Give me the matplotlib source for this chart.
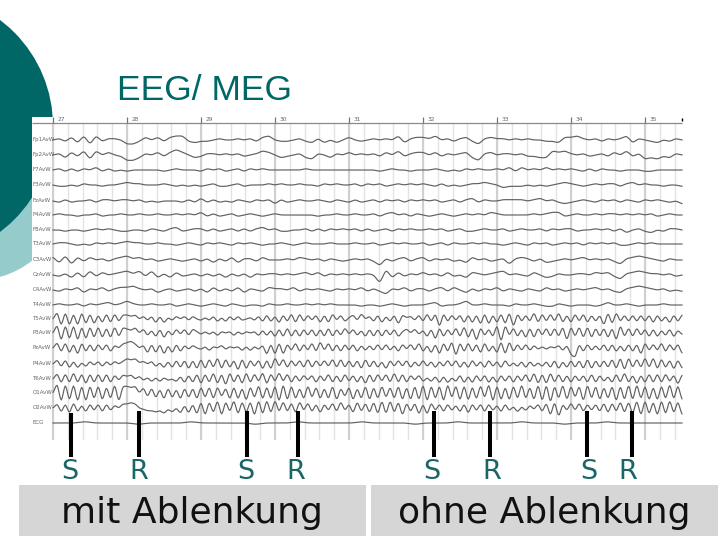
import numpy as np
import matplotlib
matplotlib.use('Agg')
import matplotlib.pyplot as plt
from matplotlib.patches import Circle, Rectangle

TEAL = '#006666'
TRACE = '#606060'

channels = ['Fp1AvW', 'Fp2AvW', 'F7AvW', 'F3AvW', 'FzAvW', 'F4AvW', 'F8AvW', 'T3AvW', 'C3AvW', 'CzAvW',
            'C4AvW', 'T4AvW', 'T5AvW', 'P3AvW', 'PzAvW', 'P4AvW', 'T6AvW', 'O1AvW', 'O2AvW', 'ECG']
baselines = [140, 155, 170, 185, 201, 215, 230, 244, 260, 275, 290, 305, 319, 333, 348, 364, 379, 393, 408, 423]

# deflections in trace units, one row per second (27 .. 35)
fp1 = [0, 1, -1, 2, -2, 3, -3, 3, -1, 1, 1, 0,
       -3, -3, -1, 2, 0, 2, -1, 2, 3, 3, -1, -2,
       -1, -1, 0, 1, 0, 0, 1, 0, 1, -1, 2, 3,
       0, -1, -1, 0, 1, -1, -2, 1, -2, 0, -2, 0,
       2, 0, -1, 0, 1, 0, 1, 0, 3, -2, 1, 2,
       2, 1, 3, 0, 1, -1, 1, 2, -1, -3, 1, 2,
       1, 1, 0, 1, 0, 1, 0, 0, -1, -1, -2, 2,
       2, 3, 1, 0, 1, -1, 1, 0, 1, 3, -2, 1,
       0, -1, -2, 0, -1, 1, 0]
fp2 = [0, 1, -2, 2, -1, 3, -3, 3, 0, 2, 0, -1,
       -4, -4, -2, 1, 0, 2, -1, 2, 4, 2, 0, -2,
       -1, 1, 1, 0, 1, 0, 1, -1, 0, 1, 3, 2,
       0, -2, -1, 0, 1, -2, -3, 1, 0, -2, 1, 0,
       2, 0, 1, 0, 1, -1, 2, 0, 3, -1, 1, 2,
       2, 0, 2, -1, 1, 0, 1, 2, -2, -4, 1, 2,
       0, 1, 1, 0, 1, -1, -1, -2, -2, 3, 2, 3,
       1, 0, 1, -1, 0, 1, -1, 2, 0, 3, -1, 1,
       -3, -2, -3, -1, -2, 1, 0]
f7 = [0, 1, -1, 1, -1, 1, 0, 2, -1, 1, -1, 0,
      -1, 0, 0, 0, 0, 0, -1, 0, 1, 0, 0, 0,
      -1, 1, 0, 1, -1, 0, 1, -1, 1, 0, 1, 0,
      0, 0, 0, 0, 0, 1, 0, 0, 0, 0, 0, 0,
      0, 0, 0, 0, 0, -1, 0, 1, 0, 0, -1, 0,
      0, 0, 1, 0, -1, 0, -1, 1, 0, 1, 0, 0,
      1, 0, 2, -1, 2, 0, 1, 0, 2, 0, 1, 0,
      1, 0, -1, 1, -1, 1, 0, 0, -1, 0, 0, 0,
      -1, -1, 0, 0, 0, 0, 0]
f3 = [0, -1, -1, 0, -1, 1, 0, 0, -1, 0, 0, 1,
      2, 1, 1, 0, 0, 0, 1, 0, -1, 0, -1, 0,
      -1, 0, 1, -1, -1, 0, 1, -1, 0, 0, 0, 1,
      0, 1, 0, 0, 1, 0, 0, -1, 1, 0, 1, 0,
      0, 1, -1, 1, 0, 1, -1, 0, 1, 0, 1, 0,
      1, 0, -1, 1, -1, 0, -1, 0, 1, 1, 2, 1,
      0, -2, -1, -1, -1, 0, -1, 0, -1, 0, 1, 2,
      1, 0, -1, 0, 1, 0, 1, 1, -1, 1, 2, 0,
      1, 0, 0, -1, 0, 0, -1]
fz = [0, -1, 1, -1, 0, 0, 1, -1, 1, 1, 0, 1,
      1, 0, 1, -1, 0, -1, 0, 0, 0, -1, 1, -1,
      2, -1, 1, -1, 0, -1, 1, 0, -1, 1, 0, 1,
      -2, 1, -1, 0, 1, 0, 0, 1, 0, -1, 1, 0,
      -1, 1, -1, 0, 1, -1, 1, 0, 1, -1, 1, 0,
      1, 0, 1, -1, 0, 1, -1, 1, 2, -1, 1, 0,
      0, 1, 1, 1, 1, 0, 1, 2, 0, 1, -1, -2,
      -1, 0, 1, 0, -1, 1, 0, 1, -1, 1, 0, -1,
      1, 0, 1, 0, -1, 0, -2]
f4 = [0, 1, 0, 0, -1, 0, 0, 1, -1, 0, 0, 1,
      0, 0, 1, 0, 0, 1, 0, 0, 1, 0, 1, 0,
      2, -1, 1, -1, 0, 1, -1, 0, 1, 0, -1, 0,
      1, 0, 0, 0, 0, 0, 0, -1, 0, 0, 1, 0,
      0, 1, 0, 0, 1, -1, 1, 2, 0, 1, -1, 1,
      0, -1, 0, 1, 0, -1, 0, 1, 0, 1, 0, 2,
      1, 0, 0, 0, 0, 0, 1, 0, 1, 2, 2, -1,
      0, 1, 0, 0, 1, 0, 1, 1, 0, 1, 0, 1,
      0, 1, -1, 0, 1, 0, 0]
f8 = [0, 0, -1, 0, 0, -1, 0, 1, 0, 1, 0, -1,
      -1, 0, 0, -1, 1, 0, -1, 1, 2, -1, 0, 1,
      1, -1, 1, -1, 0, 1, -1, 1, -1, 1, 2, 0,
      1, -1, -1, 0, 0, 1, -1, 1, -1, 1, 0, 1,
      0, 1, -1, 1, -1, 0, 1, -1, 1, 0, 1, 0,
      0, 1, 0, 1, -1, 0, 1, -1, -1, 0, 1, 0,
      0, 1, -1, 0, 1, 0, 0, 1, -1, 1, 0, 1,
      1, -1, 0, 0, 1, 0, 1, -1, 1, -2, 0, 1,
      -1, -2, 0, -1, 1, 1, 0]
t3 = [0, 1, 1, 0, -1, 0, -1, 1, 0, 1, 0, 1,
      2, 1, 1, 0, 0, 1, 0, 0, -1, 0, 1, 0,
      -1, 1, 0, 1, 0, -1, 1, 0, 1, 0, -1, 0,
      0, 1, 0, -1, 0, 1, 0, 0, 0, 1, 0, 0,
      0, 1, 0, 0, 1, -1, 0, 1, 0, 1, 0, 0,
      1, -1, 0, 1, -1, 1, 0, 0, 1, 0, 1, 0,
      0, -1, 0, 1, 0, -1, 1, 0, 1, -1, 0, 1,
      0, 1, -1, 1, 0, 1, 0, 1, -1, -1, 0, 1,
      0, 1, 0, 0, 0, 0, 0]
c3 = [2, -2, 3, -3, 2, -1, 2, 0, 1, -1, 1, 2,
      3, 1, 2, 0, 1, -1, 0, 1, 0, -1, 0, 1,
      -1, 1, -2, 1, -1, 2, -2, 1, 1, -1, 2, 0,
      0, 0, 1, 0, 2, 1, 0, 1, -1, 1, 0, -1,
      0, 1, 0, 1, -1, -4, 1, -1, 1, 2, -1, 1,
      2, -1, 1, 0, 1, -1, 0, -2, 2, 0, 1, -1,
      0, 1, -3, 1, 2, 1, -1, 1, -2, -1, 0, 1,
      0, 1, 2, 0, 1, 0, 1, -1, -3, 1, 2, 3,
      2, 1, 0, -1, 1, 0, 0]
cz = [0, -1, 1, -2, 2, -2, 3, -1, 2, 0, 1, 2,
      3, 1, 3, -1, 3, -2, 1, -2, 2, -1, 0, 1,
      -1, 1, -1, 1, -2, 1, -1, 1, -2, 1, 0, 1,
      1, 0, 1, 0, 1, 2, 0, 2, -1, 1, 0, 1,
      0, 1, 0, 1, 0, -6, 4, -2, 2, -1, 1, 0,
      2, 0, 1, -1, 2, -1, 0, -2, 2, 1, 0, 1,
      2, 3, 0, 1, 0, -1, 2, 0, -2, -1, 1, 0,
      0, 1, 1, 0, 2, 1, 2, -1, -3, 1, 2, 3,
      2, 1, 1, 0, 1, -1, 0]
c4 = [0, -1, 1, 0, 2, -2, 1, 0, 2, -1, 1, 2,
      2, 3, 1, 0, 1, -2, 0, 1, -1, 0, 1, -1,
      1, -2, 2, -1, 1, -1, 2, -2, 1, 0, -1, 2,
      1, 1, 0, 2, -1, 1, 0, 1, 0, -1, 1, 0,
      1, 0, 2, -1, 1, -1, -3, 1, 0, 2, -1, 1,
      1, -1, 1, 2, -1, 2, 0, -2, 1, -1, 1, 0,
      2, -1, 1, 0, -1, 1, 0, -1, 2, 0, 1, -1,
      0, 1, 0, 1, 2, 0, 1, -1, -2, 1, 2, 3,
      2, 1, 0, 1, -1, 0, -1]
t4 = [0, 1, 0, 0, 1, -1, 1, 0, 1, 2, 0, 1,
      3, 1, 0, 0, 1, 0, 0, 1, -1, 0, 1, 0,
      -1, 0, 1, 0, -1, 1, 0, -1, 0, 0, -1, 1,
      0, 0, 1, 0, 0, 1, 0, 1, 0, 1, 0, 0,
      0, 0, -1, 0, 0, -1, 0, 1, 0, -1, 0, 0,
      0, 1, 2, -1, 0, 0, 1, 3, 0, 0, 1, 0,
      0, 0, -1, 1, 0, 0, 1, 0, -1, -1, 1, 0,
      -1, 0, 0, 0, -1, 0, 2, 0, 0, 1, 0, -1,
      0, 0, 0, 1, 0, 0, 0]

# rhythmic channels, finer reading
t5 = [0, 5, -5, 5, -5, 4, -5, 5, -4, 4, -4, 3, -3, 4, -3, 4, -2, 3,
      3, 2, 3, 0, 2, -1, 2, -3, 2, -3, 1, -1, 2, 0, 2, -1, 2, 0,
      -1, 1, -1, 2, -2, 1, -2, 2, -1, 2, -1, 0, 1, -1, 2, -2, 3, -2,
      2, -3, 3, -2, 4, -3, 4, -2, 3, -1, 3, -3, 3, -3, 4, -1, 3, -2,
      1, 3, -1, 4, 0, 2, -2, 3, -3, 2, -2, 3, -4, 3, 1, 2, -1, 3,
      -2, 4, -2, 4, -6, 4, -2, 3, -1, 3, -3, 3, -3, 3, -4, 4, -4, 3,
      -3, 4, -4, 5, -6, 4, -2, 3, -2, 5, -3, 4, -2, 4, -2, 5, -3, 3,
      -3, 4, -2, 4, -3, 3, -2, 3, -5, 5, -4, 5, -2, 3, -2, 3, -2, 3,
      -2, 3, -3, 3, -2, 2, -3, 3, -2, 3]
p3 = [0, 6, -6, 6, -5, 6, -6, 5, -5, 5, -4, 5, -4, 4, -4, 5, -3, 4,
      3, 2, 4, 0, 3, -2, 2, -3, 3, -4, 2, -2, 3, -1, 3, -2, 3, 1,
      -1, 1, -1, 1, -2, 1, 0, 1, -2, 1, -1, 1, 0, 1, -2, 2, -2, 2,
      -3, 3, -3, 4, -3, 3, -3, 3, -2, 3, -3, 3, -3, 4, -3, 3, -2, 4,
      -1, 3, -2, 2, -3, 3, -3, 3, -3, 3, -2, 3, -3, 1, 3, 0, 3, -1,
      2, -3, 3, -5, 4, -3, 3, -2, 4, -3, 5, -4, 4, -6, 4, -2, 3, -3,
      6, -7, 6, -2, 4, -3, 3, -4, 4, -4, 4, -2, 4, -3, 4, -3, 5, -6,
      5, -3, 5, -4, 5, -4, 4, -3, 4, -4, 4, -6, 6, -3, 4, -3, 4, -2,
      3, -3, 3, -3, 2, -2, 3, -3, 2, -1]
pz = [0, 4, -3, 4, -4, 3, -5, 4, -3, 3, -3, 3, -2, 3, -3, 2, 0, 3,
      4, 5, 3, 0, 2, -4, 3, -4, 3, -5, 2, -4, 3, -3, 2, -1, 2, 0,
      -1, 1, -2, 1, 0, 2, -1, 1, 0, 1, -2, 1, -2, 1, -1, 2, -5, 3,
      -5, 4, -5, 3, -2, 4, -3, 3, -2, 4, -3, 5, -2, 4, -3, 3, -3, 3,
      -2, 3, -3, 2, -2, 2, -2, 3, -2, 3, -2, 2, -3, 3, -1, 3, -2, 4,
      -3, 2, -4, 3, -5, 4, -3, 5, -6, 4, -3, 4, -3, 3, -4, 4, -3, 2,
      -4, 5, -5, 5, -3, 3, -2, 3, -2, 2, -1, 1, -1, 1, 0, 2, -2, 2,
      -5, -7, 3, -3, 3, -2, 2, -2, 3, -3, 3, -3, 2, -3, 3, -3, 3, -5,
      4, -2, 3, -2, 4, -3, 3, -2, 3, -4]
p4 = [0, 3, -2, 3, -3, 2, -3, 1, -2, 2, -1, 2, -2, 2, -1, 2, 0, 2,
      4, 3, 4, 1, 2, 0, 2, -2, 1, -3, 2, -3, 3, -3, 3, -4, 3, -4,
      4, -4, 4, -3, 5, -4, 4, -3, 3, -5, 4, -4, 3, -2, 3, -4, 3, -4,
      5, -2, 4, -3, 3, -2, 3, -3, 4, -3, 3, -2, 3, -2, 4, -3, 4, -3,
      3, -3, 3, -4, 4, -3, 3, -3, 2, -4, 3, -2, 3, -2, 3, -3, 2, -2,
      3, -2, 2, -3, 2, -2, 3, -2, 3, -3, 2, -3, 3, -2, 2, -3, 3, -2,
      2, -3, 3, -2, 1, -2, 2, -3, 2, -2, 1, -2, 2, -3, 3, -4, 2, -3,
      3, -3, 3, -4, 4, -4, 3, -3, 3, -3, 4, -4, 5, -5, 5, -3, 4, -3,
      5, -3, 5, -4, 4, -3, 3, -4, 3, -3]
t6 = [0, 4, -3, 4, -3, 5, -3, 4, -4, 4, -3, 4, -3, 4, -3, 3, -1, 3,
      2, 3, 0, 2, -1, 1, -2, 1, -2, 1, -1, 0, -2, 2, -3, 3, -3, 4,
      -4, 4, -3, 5, -4, 4, -5, 5, -3, 4, -4, 5, -3, 4, -2, 5, -4, 4,
      -2, 5, -2, 4, -3, 3, -2, 3, -1, 3, -3, 3, -2, 4, -3, 3, -3, 4,
      -2, 3, -3, 3, -4, 4, -3, 4, -2, 4, -3, 5, -3, 4, -3, 3, -1, 3,
      -2, 1, -2, 2, -3, 2, -3, 1, -2, 3, -3, 2, -3, 3, -2, 3, -3, 2,
      -3, 3, -2, 3, -3, 3, -2, 4, -3, 5, -4, 4, -4, 5, -3, 4, -3, 3,
      -3, 3, -2, 3, -3, 4, -3, 3, -2, 2, -3, 4, -3, 5, -3, 3, -4, 3,
      -3, 4, -3, 4, -3, 4, -2, 3, -4, 3]
o1 = [0, 7, -7, 7, -6, 7, -7, 6, -7, 6, -5, 6, -6, 5, -5, 7, -7, 5,
      5, 4, 5, 0, 4, -3, 4, -4, 3, -5, 4, -4, 3, -5, 4, -4, 4, -5,
      5, -4, 5, -5, 5, -3, 4, -5, 5, -5, 4, -6, 5, -4, 6, -5, 5, -5,
      6, -7, 7, -6, 6, -5, 4, -5, 6, -4, 5, -5, 4, -5, 6, -6, 4, -3,
      5, -6, 4, -5, 6, -6, 5, -5, 6, -4, 5, -5, 6, -6, 5, -6, 6, -6,
      7, -7, 6, -5, 6, -7, 7, -4, 6, -6, 6, -6, 5, -5, 6, -4, 7, -7,
      6, -6, 5, -6, 6, -5, 7, -5, 5, -6, 7, -7, 7, -8, 6, -5, 7, -6,
      6, -4, 6, -7, 7, -5, 6, -6, 5, -5, 6, -7, 6, -6, 7, -6, 7, -5,
      6, -6, 5, -6, 6, -5, 7, -5, 6, -5]
o2 = [0, 3, -3, 3, -4, 4, -3, 2, -3, 3, -2, 3, -3, 3, -2, 2, 0, 3,
      3, 4, 3, 0, -1, -2, -2, -3, -2, -4, -1, -3, 0, -4, 2, -4, 3, -5,
      5, -6, 5, -4, 6, -6, 5, -3, 6, -5, 5, -4, 5, -6, 6, -5, 6, -4,
      6, -3, 5, -3, 4, -4, 5, -2, 4, -3, 3, -4, 3, -2, 4, -3, 5, -2,
      3, -4, 5, -3, 4, -4, 5, -5, 6, -5, 6, -4, 5, -6, 4, -3, 4, -5,
      3, -5, 4, -2, 3, -3, 3, -2, 2, -3, 3, -4, 3, -2, 3, -3, 3, -2,
      2, -3, 3, -2, 1, -3, 1, -2, 2, -1, 3, -3, 4, -6, 5, -7, 3, -2,
      4, -2, 4, -3, 3, -2, 3, -3, 4, -4, 4, -3, 5, -4, 5, -5, 6, -6,
      6, -5, 5, -6, 6, -5, 6, -4, 5, -5]
ecg = [0, 0, 0, 1, 0, 0, 0, 0, -1, 0, 0, 0, 0, 1, 0, 0, 0, 0, 0, -1,
       0, 0, 0, 1, 0, 0, 0, 0, 0, 1, 0, 0, 0, 0, -1, 0, 0, 0, 1, 0,
       0, 0, 0, 0, 1, 0, 0, 0, -1, 0, 0, 0, 1, 0, 0, 0, 0, 0, 0, 0]

traces = [fp1, fp2, f7, f3, fz, f4, f8, t3, c3, cz, c4, t4, t5, p3, pz, p4, t6, o1, o2, ecg]

seconds = [27, 28, 29, 30, 31, 32, 33, 34, 35]
stim_times = [27.243, 28.162, 29.622, 30.311, 32.149, 32.905, 34.216, 34.824]
stim_tops = [413, 411, 411, 411, 411, 411, 411, 411]
stim_labels = ['S', 'R', 'S', 'R', 'S', 'R', 'S', 'R']
label_times = [27.23, 28.16, 29.61, 30.28, 32.12, 32.93, 34.24, 34.77]


def round_trace(vals):
    # pen traces are round, not zigzag: resample and soften the corners
    t = np.linspace(27, 35.5, len(vals))
    fine_t = np.linspace(27, 35.5, 4 * len(vals))
    fine = np.interp(fine_t, t, vals)
    fine = np.convolve(np.pad(fine, 1, mode='edge'), [0.25, 0.5, 0.25], mode='valid')
    return fine_t, 1.35 * fine


fig = plt.figure(figsize=(7.2, 5.4), dpi=100)

# slide decoration in pixel coordinates
bg = fig.add_axes([0, 0, 1, 1])
bg.set_xlim(0, 720)
bg.set_ylim(540, 0)
bg.axis('off')
bg.add_patch(Circle((-25, 188), 92.4, color='#96CBCC', lw=0))
bg.add_patch(Circle((-79.5, 126), 132.5, color=TEAL, lw=0))
bg.add_patch(Rectangle((19, 485), 347, 51, color='#D6D6D6', lw=0))
bg.add_patch(Rectangle((371, 485), 347, 51, color='#D6D6D6', lw=0))
bg.text(117, 90, 'EEG/ MEG', family='Liberation Sans', fontsize=25.5, color=TEAL, va='center', ha='left')
bg.text(192, 513, 'mit Ablenkung', fontsize=26, color='#111111', va='center', ha='center')
bg.text(544, 513, 'ohne Ablenkung', fontsize=26, color='#111111', va='center', ha='center')

# EEG page
ax = fig.add_axes([32 / 720, 1 - 440 / 540, 653 / 720, 323 / 540], zorder=2)
ax.set_xlim(27 - 21 / 74, 27 + 632 / 74)
ax.set_ylim(440, 117)
for s in ax.spines.values():
    s.set_visible(False)
ax.set_xticks([])
ax.set_yticks([])

minor = np.arange(27, 35.6, 0.2)
ax.vlines(minor, 123, 440, color='#e3e3e3', lw=1.0, zorder=1)
ax.vlines(seconds, 123, 440, color='#d0d0d0', lw=1.5, zorder=1)
ax.hlines(123, ax.get_xlim()[0], 35.5, color='#8a8a8a', lw=0.9, zorder=2)
ax.vlines(seconds, 117, 123, color='#777777', lw=0.9, zorder=2)
ax.vlines(35.5, 118, 121, color='black', lw=1.0, zorder=2)
for s in seconds:
    ax.text(s + 0.06, 120, str(s), fontsize=4.2, color='#666666', va='center', ha='left')

for name, y0, vals in zip(channels, baselines, traces):
    t, v = round_trace(vals)
    ax.plot(t, y0 - v, color=TRACE, lw=0.85, zorder=3)
    ax.text(32.5 / 74 + 27 - 53 / 74, y0, name, fontsize=4, color='#666666', va='center', ha='left')

ax.vlines(stim_times, stim_tops, 457, color='black', lw=2.9, zorder=5, clip_on=False)
for t, lab in zip(label_times, stim_labels):
    ax.text(t, 472, lab, fontsize=19.5, color='#1A6666', va='center', ha='center')

fig.savefig('out.png', dpi=100)
